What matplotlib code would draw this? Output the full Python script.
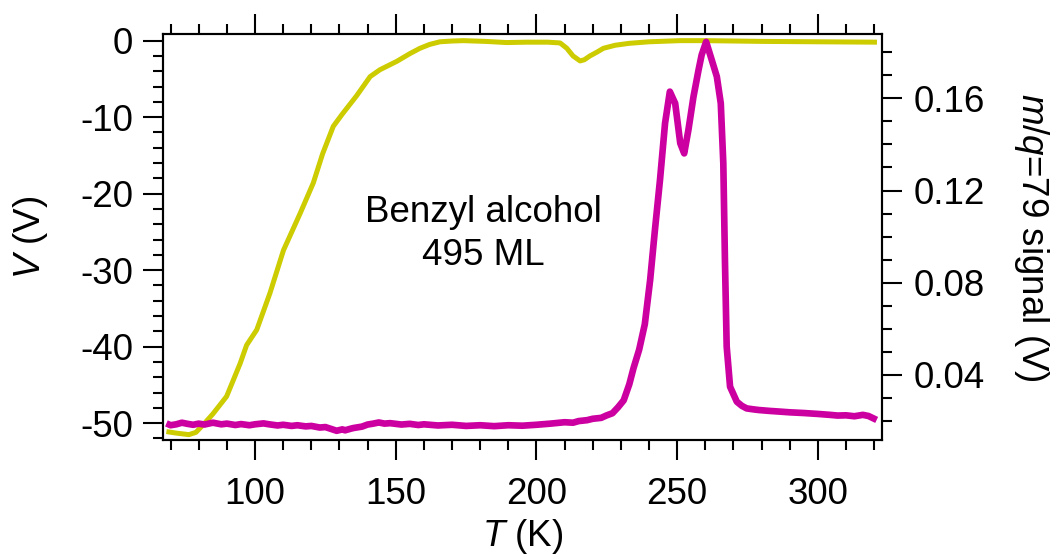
import matplotlib
matplotlib.use("Agg")
import matplotlib.pyplot as plt
from matplotlib.ticker import MultipleLocator

plt.rcParams['font.family'] = ['Liberation Sans', 'DejaVu Sans']
plt.rcParams['mathtext.fontset'] = 'custom'
plt.rcParams['mathtext.rm'] = 'Liberation Sans'
plt.rcParams['mathtext.it'] = 'Liberation Sans:italic'
plt.rcParams['axes.unicode_minus'] = False

# sample bias V(T), left axis
t_bias = [68.5, 72, 76.5, 79, 81.6, 85, 89.9, 94.7, 97, 100.6, 105.3, 110.1,
          116.0, 120.7, 124, 127.8, 131, 136.1, 140.9, 144.4, 150.4, 155,
          158.6, 162, 165.7, 170, 174, 182, 189.4, 196.5, 204, 208.4, 210.8,
          213, 215.5, 217, 219, 221.5, 223.8, 228, 233, 240, 251, 260, 280.6,
          300, 321]
v_bias = [-51.1, -51.3, -51.5, -51.2, -50.2, -48.8, -46.5, -42.2, -39.8, -37.8,
          -33.0, -27.4, -22.6, -18.6, -14.8, -11.2, -9.6, -7.2, -4.7, -3.8,
          -2.7, -1.7, -1.0, -0.5, -0.15, -0.05, 0.0, -0.1, -0.25, -0.2, -0.2,
          -0.3, -1.0, -2.0, -2.65, -2.5, -2.0, -1.5, -1.0, -0.6, -0.35, -0.15,
          0.0, 0.0, -0.1, -0.15, -0.2]

# m/q = 79 desorption signal, right axis
t_ms = [68.5, 70, 72, 74, 76, 78, 80, 82, 85, 88, 90, 93, 95, 98, 100, 103,
        105, 108, 110, 113, 115, 118, 120, 123, 125, 127, 129, 131, 132, 134,
        135, 138, 140, 142, 144, 146, 148, 152, 155, 158, 160, 165, 170, 175,
        180, 185, 190, 195, 200, 205, 210, 213, 215, 218, 220, 223, 225, 227,
        229, 231, 233, 234.5, 236.5, 238.5, 240.4, 242.1, 243.9, 245.7, 247.4,
        249.3, 251.1, 252.5, 254.0, 255.8, 257.6, 258.7, 260.3, 262.3, 264.1,
        265.5, 266.4, 267.0, 267.6, 268.8, 271.2, 273, 274.7, 277, 279, 283,
        286.6, 290, 295, 300, 304.3, 307, 310, 313, 316, 318, 320.9]
s_ms = [0.0190, 0.0182, 0.0186, 0.0193, 0.0188, 0.0184, 0.0189, 0.0185,
        0.0193, 0.0186, 0.0189, 0.0183, 0.0187, 0.0182, 0.0186, 0.0190,
        0.0186, 0.0181, 0.0184, 0.0179, 0.0182, 0.0177, 0.0179, 0.0172,
        0.0174, 0.0166, 0.0158, 0.0164, 0.0160, 0.0167, 0.0170, 0.0176,
        0.0185, 0.0189, 0.0194, 0.0189, 0.0191, 0.0185, 0.0188, 0.0183,
        0.0186, 0.0181, 0.0184, 0.0179, 0.0182, 0.0178, 0.0182, 0.0180,
        0.0184, 0.0189, 0.0195, 0.0193, 0.0200, 0.0204, 0.0210, 0.0214,
        0.0225, 0.0234, 0.0260, 0.0290, 0.0360, 0.0430, 0.0510, 0.0620,
        0.0812, 0.1029, 0.1246, 0.1492, 0.1629, 0.1578, 0.1405, 0.1361,
        0.1463, 0.1607, 0.1723, 0.1788, 0.1845, 0.1766, 0.1694, 0.1578,
        0.1318, 0.0884, 0.0523, 0.0349, 0.0284, 0.0266, 0.0255, 0.0251,
        0.0248, 0.0244, 0.0241, 0.0238, 0.0235, 0.0231, 0.0227, 0.0224,
        0.0225, 0.0221, 0.0227, 0.0222, 0.0205]

fig = plt.figure(figsize=(10.6, 5.59), dpi=100)
ax = fig.add_axes([0.1538, 0.2129, 0.6783, 0.7263])
ax2 = ax.twinx()

ax.plot(t_bias, v_bias, color='#cccc00', lw=3.6, solid_capstyle='butt')
ax2.plot(t_ms, s_ms, color='#cc00a0', lw=4.8, solid_capstyle='butt')

ax.set_xlim(67.3, 322.8)
ax.set_ylim(-52.2, 0.87)
ax2.set_ylim(0.0118, 0.1879)

ax.xaxis.set_major_locator(MultipleLocator(50))
ax.xaxis.set_minor_locator(MultipleLocator(10))
ax.yaxis.set_major_locator(MultipleLocator(10))
ax.yaxis.set_minor_locator(MultipleLocator(2))
ax2.yaxis.set_major_locator(MultipleLocator(0.04))
ax2.yaxis.set_minor_locator(MultipleLocator(0.01))
ax2.yaxis.set_major_formatter(lambda v, p: f'{v:.2f}')

fs = 26.5
ax.tick_params(axis='x', which='both', direction='out', top=True,
               labelsize=fs, width=1.5, pad=12)
ax.tick_params(axis='y', which='both', direction='out', labelsize=fs,
               width=1.5, pad=7)
ax2.tick_params(axis='y', which='both', direction='out', labelsize=fs,
                width=1.5, pad=8)
for a in (ax, ax2):
    a.tick_params(which='major', length=14.4)
    a.tick_params(which='minor', length=7.5)
    for s in a.spines.values():
        s.set_linewidth(1.5)

ax.set_xlabel(r'$\mathit{T}$ (K)', fontsize=fs, labelpad=4)
ax.set_ylabel(r'$\mathit{V}$ (V)', fontsize=fs, labelpad=22)
ax2.set_ylabel(r'$\mathit{m/q}$=79 signal (V)', fontsize=fs,
               rotation=270, labelpad=48)

ax.text(181, -23.7, 'Benzyl alcohol', fontsize=fs, ha='center')
ax.text(181, -29.3, '495 ML', fontsize=fs, ha='center')

fig.savefig('out.png', dpi=100)
